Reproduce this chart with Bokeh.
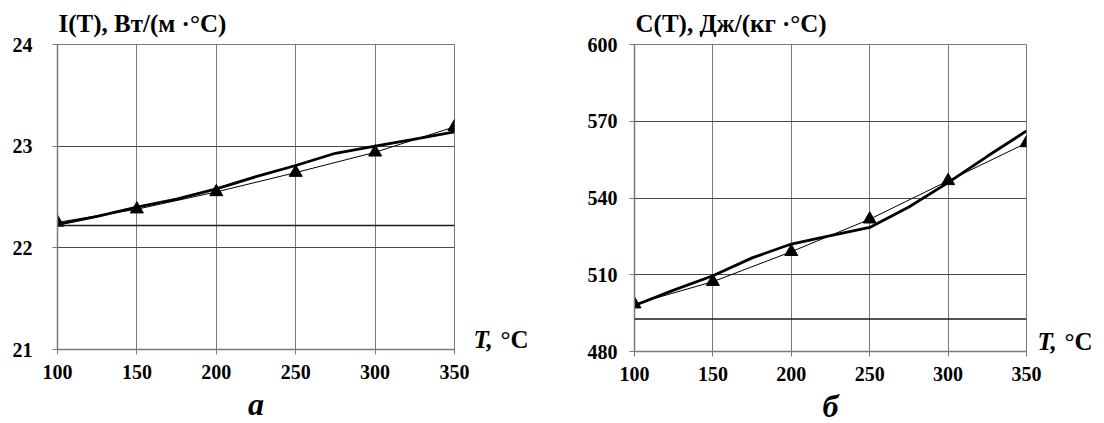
from bokeh.plotting import figure
from bokeh.layouts import row
from bokeh.models import Range1d, FixedTicker, Span, Title, LinearAxis
from bokeh.embed import file_html
from bokeh.resources import INLINE

# ---- data ----
T_pts = [100, 150, 200, 250, 300, 350]
T_fine = [100, 125, 150, 175, 200, 225, 250, 275, 300, 325, 350]

# (a) thermal conductivity
I_meas = [22.25, 22.38, 22.55, 22.74, 22.94, 23.19]
I_calc = [22.23, 22.31, 22.40, 22.48, 22.58, 22.70, 22.81, 22.93, 23.00, 23.07, 23.14]
I_base = 22.22
I_ticks = [21, 22, 23, 24]

# (б) heat capacity
C_meas = [498.5, 507.3, 519.0, 531.7, 546.7, 561.5]
C_calc = [498.0, 504.0, 509.6, 516.6, 522.0, 525.3, 528.5, 536.5, 546.0, 556.3, 566.2]
C_base = 492.7
C_ticks = [480, 510, 540, 570, 600]

x_ticks = [100, 150, 200, 250, 300, 350]

SERIF = "Liberation Serif"
GRID_H = "#4a4a4a"
GRID_V = "#7a7a7a"


def make_panel(frame_w, frame_h, b_left, b_right, b_top, b_bottom, y_lo, y_hi, y_ticks,
               calc, meas, base, y_standoff, title_text, panel_letter, tlabel_pos, tlabel_standoff):
    p = figure(frame_width=frame_w, frame_height=frame_h,
               min_border_left=b_left, min_border_right=b_right,
               min_border_top=b_top, min_border_bottom=b_bottom,
               x_range=Range1d(100, 350), y_range=Range1d(y_lo, y_hi),
               output_backend="svg", toolbar_location=None, tools="")
    p.background_fill_color = "white"
    p.border_fill_color = "white"
    p.outline_line_color = GRID_V
    p.outline_line_width = 1

    p.xaxis.ticker = FixedTicker(ticks=x_ticks)
    p.yaxis.ticker = FixedTicker(ticks=y_ticks)
    for ax in (p.xaxis[0], p.yaxis[0]):
        ax.axis_line_color = GRID_V
        ax.axis_line_width = 1.5
        ax.major_tick_line_color = GRID_V
        ax.major_tick_in = 0
        ax.major_tick_out = 5
        ax.minor_tick_line_color = None
        ax.major_label_text_font = SERIF
        ax.major_label_text_font_style = "bold"
        ax.major_label_text_font_size = "20px"
        ax.major_label_text_color = "black"
    p.xaxis.major_label_standoff = 10
    p.yaxis.major_label_standoff = y_standoff

    # panel letter as x-axis label
    p.xaxis.axis_label = panel_letter
    p.xaxis.axis_label_text_font = SERIF
    p.xaxis.axis_label_text_font_style = "bold italic"
    p.xaxis.axis_label_text_font_size = "32px"
    p.xaxis.axis_label_text_color = "black"
    p.xaxis.axis_label_standoff = 4

    p.xgrid.grid_line_color = GRID_V
    p.xgrid.grid_line_width = 1
    p.ygrid.grid_line_color = GRID_H
    p.ygrid.grid_line_width = 1

    p.add_layout(Span(location=base, dimension="width", line_color="#1a1a1a", line_width=1.5))

    p.line(T_fine, calc, line_color="black", line_width=2.8)
    p.line(T_pts, meas, line_color="black", line_width=1)
    p.scatter(T_pts, meas, marker="triangle", size=13, fill_color="black", line_color="black")

    # title above the frame
    p.add_layout(Title(text=title_text, align="left", offset=1, standoff=15,
                       text_font=SERIF, text_font_style="bold", text_font_size="25px",
                       text_color="black"), "above")

    # "T, °C" to the right of the frame, as tick-less axes
    parts = [("T,", "bold italic", tlabel_standoff), ("°C", "bold", 5)]
    for txt, style, so in parts:
        ax = LinearAxis(ticker=FixedTicker(ticks=[tlabel_pos]),
                        major_label_overrides={tlabel_pos: txt})
        ax.axis_line_color = None
        ax.major_tick_line_color = None
        ax.minor_tick_line_color = None
        ax.major_tick_in = 0
        ax.major_tick_out = 0
        ax.major_label_standoff = so
        ax.major_label_text_font = SERIF
        ax.major_label_text_font_style = style
        ax.major_label_text_font_size = "25px"
        ax.major_label_text_color = "black"
        p.add_layout(ax, "right")
    return p


# left panel (a)
pa = make_panel(397, 305, 57, 98, 43, 75, 21, 24, I_ticks, I_calc, I_meas, I_base, 20,
                "I(T), Вт/(м ·°С)", "а", 21.1, 19)

# right panel (б)
pb = make_panel(392, 307, 82, 78, 42, 74, 480, 600, C_ticks, C_calc, C_meas, C_base, 12,
                "C(T), Дж/(кг ·°С)", "б", 484, 11)

layout = row(pa, pb)
open("out.html", "w").write(file_html(layout, INLINE))
